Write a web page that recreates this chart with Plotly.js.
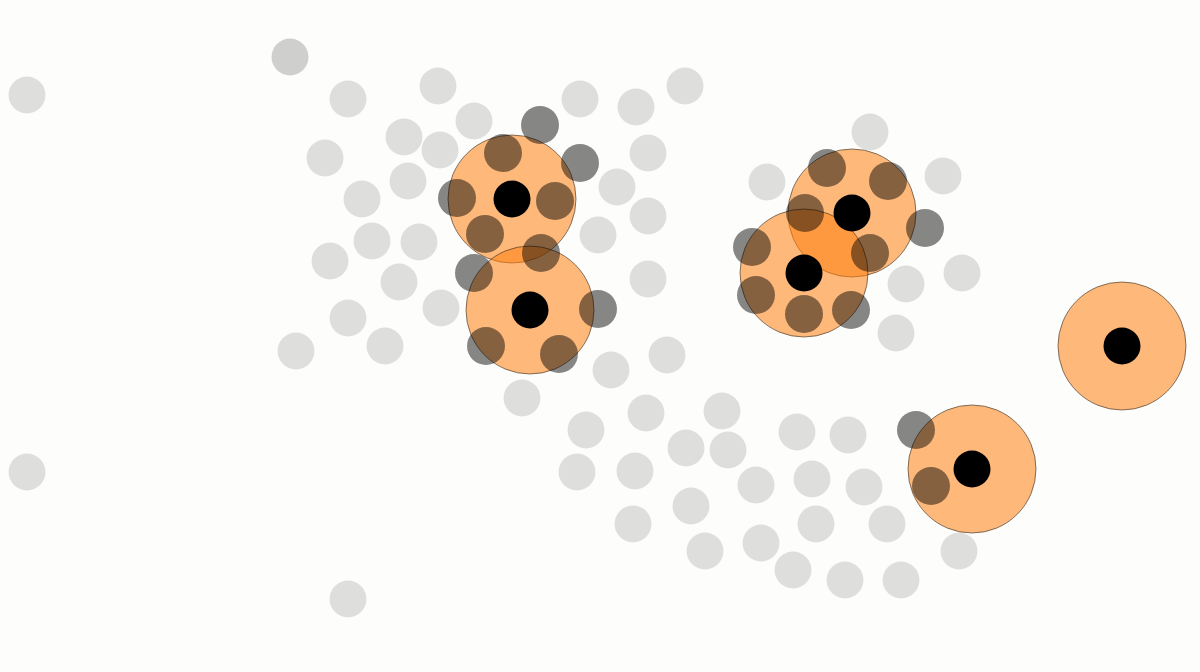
<!DOCTYPE html>
<html>
<head>
<meta charset="utf-8">
<script src="https://cdn.plot.ly/plotly-3.0.1.min.js"></script>
<style>
  html, body { margin: 0; padding: 0; background: #fdfdfc; }
  #chart { width: 1200px; height: 672px; }
</style>
</head>
<body>
<div id="chart"></div>
<script>
// background points (light)
const point_x = [27, 27, 348, 404, 325, 408, 362, 372, 419, 330, 399, 348, 385, 296,
    438, 474, 440, 580, 636, 685, 648, 617, 648, 598, 648, 441, 667, 611, 522, 646,
    722, 586, 686, 728, 577, 635, 756, 691, 797, 848, 812, 864, 633, 705, 761, 816,
    887, 793, 845, 901, 959, 348, 767, 870, 943, 962, 906, 896];
const point_y = [95, 472, 99, 137, 158, 181, 199, 241, 242, 261, 282, 318, 346, 351,
    86, 121, 150, 99, 107, 86, 153, 187, 216, 235, 279, 308, 355, 370, 398, 413,
    411, 430, 448, 450, 472, 471, 485, 506, 432, 435, 479, 487, 524, 551, 543, 524,
    524, 570, 580, 580, 551, 599, 182, 132, 176, 273, 284, 333];

// the one slightly darker point top left
const faint_x = [290];
const faint_y = [57];

// neighbours picked up by the centres
const near_x = [503, 457, 555, 485, 540, 580, 541, 474, 598, 486, 559,
    827, 888, 805, 752, 870, 925, 756, 804, 851,
    916, 931];
const near_y = [153, 198, 201, 234, 125, 163, 253, 273, 309, 346, 354,
    168, 181, 213, 247, 253, 228, 295, 314, 310,
    430, 486];

// centres
const centre_x = [512, 530, 852, 804, 1122, 972];
const centre_y = [199, 310, 213, 273, 346, 469];

function dots(x, y, color, size, line) {
    return {
        x: x, y: y,
        type: "scatter",
        mode: "markers",
        hoverinfo: "skip",
        marker: {
            color: color,
            size: size,
            line: line || { width: 0 }
        }
    };
}

const traces = [
    dots(point_x, point_y, "rgba(0,0,0,0.12)", 37),
    dots(faint_x, faint_y, "rgba(0,0,0,0.18)", 37),
    dots(centre_x, centre_y, "rgba(255,127,14,0.55)", 128,
        { width: 1, color: "rgba(50,40,30,0.6)" }),
    dots(near_x, near_y, "rgba(0,0,0,0.47)", 38),
    dots(centre_x, centre_y, "#000000", 37)
];

const hidden = {
    visible: false,
    showgrid: false,
    zeroline: false,
    fixedrange: true
};

const layout = {
    width: 1200, height: 672,
    margin: { l: 0, r: 0, t: 0, b: 0, pad: 0 },
    showlegend: false,
    paper_bgcolor: "#fdfdfc",
    plot_bgcolor: "#fdfdfc",
    xaxis: Object.assign({ range: [0, 1200] }, hidden),
    yaxis: Object.assign({ range: [672, 0] }, hidden)
};

Plotly.newPlot("chart", traces, layout, { displayModeBar: false, staticPlot: true });
</script>
</body>
</html>
